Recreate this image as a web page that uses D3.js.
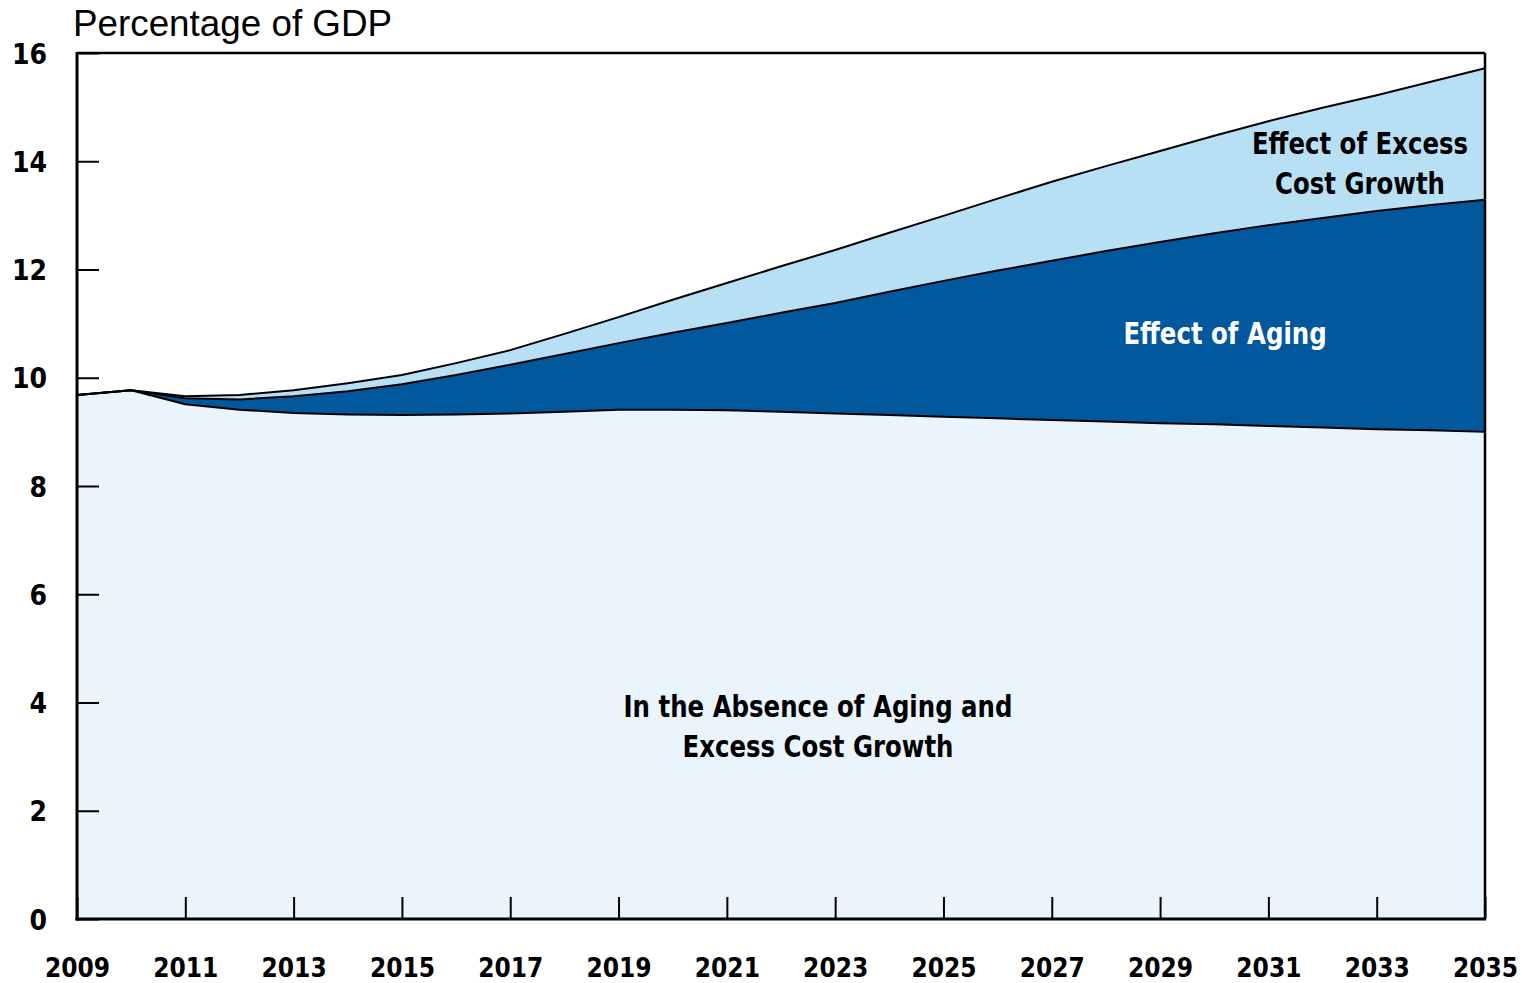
<!DOCTYPE html>
<html>
<head>
<meta charset="utf-8">
<script src="https://cdn.jsdelivr.net/npm/d3@7"></script>
<style>
  html, body { margin: 0; padding: 0; background: #fff; }
  svg { display: block; }
  .tick-label { font-family: "Liberation Sans Narrow", "DejaVu Sans Condensed", sans-serif; font-weight: bold; fill: #000; }
  .note { font-family: "Liberation Sans Narrow", "DejaVu Sans Condensed", sans-serif; font-weight: bold; }
</style>
</head>
<body>
<svg id="chart" width="1526" height="983"></svg>
<script>
// ---- Data ----
const years = [2009,2010,2011,2012,2013,2014,2015,2016,2017,2018,2019,2020,2021,2022,2023,2024,2025,2026,2027,2028,2029,2030,2031,2032,2033,2034,2035];
const baseline = [9.68,9.77,9.51,9.41,9.35,9.32,9.31,9.32,9.34,9.37,9.41,9.41,9.40,9.37,9.34,9.31,9.28,9.25,9.22,9.19,9.16,9.14,9.11,9.08,9.05,9.03,9.00];
const agingEffect = [0,0,0.11,0.19,0.31,0.43,0.57,0.73,0.90,1.07,1.23,1.42,1.61,1.83,2.04,2.28,2.51,2.73,2.94,3.15,3.35,3.53,3.71,3.87,4.03,4.16,4.29];
const excessEffect = [0,0,0.04,0.08,0.11,0.15,0.17,0.22,0.27,0.37,0.48,0.61,0.74,0.86,0.98,1.09,1.20,1.33,1.46,1.57,1.68,1.80,1.92,2.04,2.14,2.28,2.43];
const seriesKeys = ["baseline","aging","excess"];
const seriesColors = ["#eaf4fc","#02589d","#b8e0f5"];
const yTicks = [0,2,4,6,8,10,12,14,16];
const xTicks = [2009,2011,2013,2015,2017,2019,2021,2023,2025,2027,2029,2031,2033,2035];
const yTitle = "Percentage of GDP";
const baselineLabel = ["In the Absence of Aging and", "Excess Cost Growth"];
const agingLabel = ["Effect of Aging"];
const excessLabel = ["Effect of Excess", "Cost Growth"];

// ---- Layout ----
const L = 77, R = 1485, T = 53, B = 919;
const svg = d3.select("#chart");
const x = d3.scaleLinear().domain([2009, 2035]).range([L, R]);
const y = d3.scaleLinear().domain([0, 16]).range([B, T]);

const rows = years.map((yr, i) => ({ year: yr, baseline: baseline[i], aging: agingEffect[i], excess: excessEffect[i] }));
const stacked = d3.stack().keys(seriesKeys)(rows);

const area = d3.area().x(d => x(d.data.year)).y0(d => y(d[0])).y1(d => y(d[1]));
const topLine = d3.line().x(d => x(d.data.year)).y(d => y(d[1]));

svg.append("g").selectAll("path").data(stacked).join("path")
  .attr("d", area).attr("fill", (d, i) => seriesColors[i]).attr("stroke", "none");

svg.append("g").selectAll("path").data(stacked).join("path")
  .attr("d", topLine).attr("fill", "none").attr("stroke", "#000").attr("stroke-width", 2).attr("stroke-linejoin", "round");

// ---- Axes ----
const yAxis = d3.axisLeft(y).tickValues(yTicks).tickSize(-22).tickPadding(0).tickFormat(d3.format("d"));
const gy = svg.append("g").attr("transform", `translate(${L},0)`).call(yAxis);
gy.select(".domain").remove();
gy.selectAll(".tick line").attr("stroke", "#000").attr("stroke-width", 2);
gy.selectAll(".tick text").attr("class", "tick-label").attr("x", -30).attr("dy", "0.36em")
  .attr("text-anchor", "end").style("font-size", "28px");

const xAxis = d3.axisBottom(x).tickValues(xTicks).tickSize(-22).tickPadding(0).tickFormat(d3.format("d"));
const gx = svg.append("g").attr("transform", `translate(0,${B})`).call(xAxis);
gx.select(".domain").remove();
gx.selectAll(".tick line").attr("stroke", "#000").attr("stroke-width", 2);
gx.selectAll(".tick text").attr("class", "tick-label").attr("y", 49).attr("dy", "0.36em")
  .style("font-size", "26px");

// Frame
svg.append("line").attr("x1", L).attr("x2", R).attr("y1", T).attr("y2", T).attr("stroke", "#000").attr("stroke-width", 2.5);
svg.append("line").attr("x1", R).attr("x2", R).attr("y1", T).attr("y2", B).attr("stroke", "#000").attr("stroke-width", 2.5);
svg.append("line").attr("x1", L).attr("x2", L).attr("y1", T - 1).attr("y2", B + 1.5).attr("stroke", "#000").attr("stroke-width", 3);
svg.append("line").attr("x1", L - 1.5).attr("x2", R + 1).attr("y1", B).attr("y2", B).attr("stroke", "#000").attr("stroke-width", 3);

// Title
svg.append("text").attr("x", 73).attr("y", 36)
  .style("font-family", "'Liberation Sans', Arial, sans-serif").style("font-size", "36.8px").attr("fill", "#000")
  .text(yTitle);

// Annotations
function note(lines, cx, cy, size, color) {
  const t = svg.append("text").attr("class", "note").attr("text-anchor", "middle")
    .attr("transform", `translate(${cx},0) scale(0.905,1)`)
    .attr("fill", color).style("font-size", size + "px");
  lines.forEach((s, i) => t.append("tspan").attr("x", 0).attr("y", cy + i * 40).attr("dy", "0.35em").text(s));
}
note(baselineLabel, 818, 707, 30, "#000");
note(agingLabel, 1225, 334, 30, "#fff");
note(excessLabel, 1360, 144, 30, "#000");
</script>
</body>
</html>
